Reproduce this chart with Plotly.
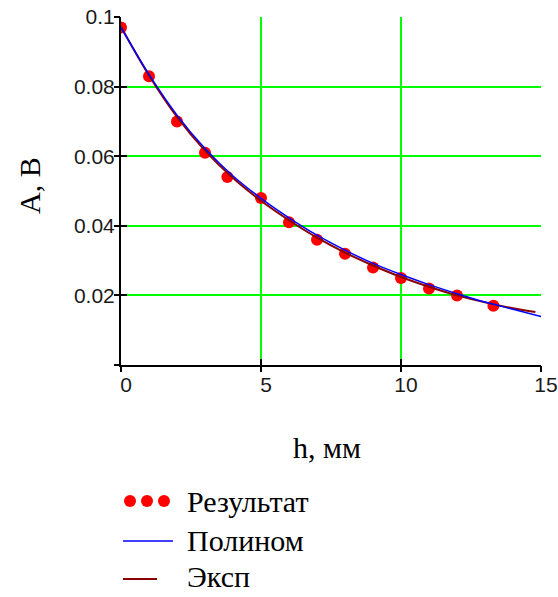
import plotly.graph_objects as go

# Measured signal amplitude versus gap
h_mm = [0, 1, 2, 3, 3.8, 5, 6, 7, 8, 9, 10, 11, 12, 13.3]
a_volts = [0.097, 0.083, 0.070, 0.061, 0.054, 0.048, 0.041, 0.036,
           0.032, 0.028, 0.025, 0.022, 0.020, 0.017]

# Polynomial approximation sampled along h
poly_h = [0, 1, 2, 3, 4, 5, 6, 7, 8, 9, 10, 11, 12, 13, 14, 15]
poly_a = [0.0970, 0.0835, 0.0718, 0.0622, 0.0543, 0.0479, 0.0423, 0.0373,
          0.0330, 0.0292, 0.0260, 0.0231, 0.0205, 0.0181, 0.0160, 0.0139]

# Exponential approximation sampled along h
exp_h = [0, 1, 2, 3, 4, 5, 6, 7, 8, 9, 10, 11, 12, 13, 14, 14.8]
exp_a = [0.0972, 0.0832, 0.0713, 0.0616, 0.0537, 0.0472, 0.0416, 0.0366,
         0.0323, 0.0286, 0.0253, 0.0225, 0.0200, 0.0180, 0.0163, 0.0152]

x_ticks = [0, 5, 10, 15]
y_ticks = [0.02, 0.04, 0.06, 0.08, 0.1]
y_tick_text = ["0.02", "0.04", "0.06", "0.08", "0.1"]
y_marks = [0, 0.02, 0.04, 0.06, 0.08, 0.1]

x_title = "h, мм"
y_title = "А, В"
names = ["Результат", "Полином", "Эксп"]

W, H = 558, 597
X_RANGE = [0, 15]
Y_RANGE = [0, 0.1]
xdom = [121 / W, 541 / W]
ydom = [1 - 365 / H, 1 - 17 / H]

RED = "#ff0000"
BLUE = "#0000ff"
BROWN = "#8b0000"
GREEN = "#00ff00"
TICK_FONT = dict(family="Liberation Sans", size=21, color="#1a1a1a")
TEXT_FONT = dict(family="Liberation Serif", size=30, color="#000000")

fig = go.Figure()

# Data layers: markers on xy, exponential on x2y2 (outer ticks),
# polynomial on x3y3 (inner ticks); all three share domain and range.
fig.add_trace(go.Scatter(x=h_mm, y=a_volts, mode="markers",
                         marker=dict(color=RED, size=12),
                         xaxis="x", yaxis="y", showlegend=False))
fig.add_trace(go.Scatter(x=exp_h, y=exp_a, mode="lines",
                         line=dict(color=BROWN, width=2, shape="spline"),
                         xaxis="x2", yaxis="y2", showlegend=False))
fig.add_trace(go.Scatter(x=poly_h, y=poly_a, mode="lines",
                         line=dict(color=BLUE, width=1.5, shape="spline"),
                         xaxis="x3", yaxis="y3", showlegend=False))

# Legend keys drawn in a pixel-space panel (x4/y4)
fig.add_trace(go.Scatter(x=[130, 147, 164], y=[501, 501, 501], mode="markers",
                         marker=dict(color=RED, size=12),
                         xaxis="x4", yaxis="y4", showlegend=False))
fig.add_trace(go.Scatter(x=[123, 173], y=[541, 541], mode="lines",
                         line=dict(color=BLUE, width=1.5),
                         xaxis="x4", yaxis="y4", showlegend=False))
fig.add_trace(go.Scatter(x=[123, 157], y=[579, 579], mode="lines",
                         line=dict(color=BROWN, width=2),
                         xaxis="x4", yaxis="y4", showlegend=False))

annotations = []
for label, ypx in zip(names, [501, 540, 576]):
    annotations.append(dict(x=185, y=ypx, xref="x4", yref="y4", text=label,
                            showarrow=False, xanchor="left", yanchor="middle",
                            font=TEXT_FONT))
annotations.append(dict(x=327, y=447, xref="x4", yref="y4", text=x_title,
                        showarrow=False, xanchor="center", yanchor="middle",
                        font=TEXT_FONT))
annotations.append(dict(x=29, y=186, xref="x4", yref="y4", text=y_title,
                        textangle=-90, showarrow=False, xanchor="center",
                        yanchor="middle", font=TEXT_FONT))

hidden = dict(showgrid=False, showline=False, zeroline=False,
              showticklabels=False, ticks="")

tick_common = dict(showgrid=False, showline=False, zeroline=False,
                   showticklabels=False, ticklen=6, tickwidth=2,
                   tickcolor="#000000", tickmode="array")

fig.update_layout(
    width=W, height=H,
    margin=dict(l=0, r=0, t=0, b=0),
    paper_bgcolor="#ffffff",
    plot_bgcolor="rgba(0,0,0,0)",
    showlegend=False,
    xaxis=dict(domain=xdom, range=X_RANGE, anchor="y",
               tickmode="array", tickvals=x_ticks, ticks="",
               showgrid=True, gridcolor=GREEN, gridwidth=2,
               showline=True, linecolor="#000000", linewidth=2,
               zeroline=False, tickfont=TICK_FONT, automargin=False,
               ticklabelshift=5, ticklabelstandoff=0),
    yaxis=dict(domain=ydom, range=Y_RANGE, anchor="x",
               tickmode="array", tickvals=y_ticks, ticktext=y_tick_text,
               ticks="", showgrid=True, gridcolor=GREEN, gridwidth=2,
               showline=True, linecolor="#000000", linewidth=2,
               zeroline=False, tickfont=TICK_FONT, automargin=False),
    xaxis2=dict(overlaying="x", anchor="y2", domain=xdom, range=X_RANGE,
                tickvals=x_ticks, ticks="outside", **tick_common),
    yaxis2=dict(overlaying="y", anchor="x2", domain=ydom, range=Y_RANGE,
                tickvals=y_marks, ticks="outside", **tick_common),
    xaxis3=dict(overlaying="x", anchor="y3", domain=xdom, range=X_RANGE,
                tickvals=x_ticks, ticks="inside", **tick_common),
    yaxis3=dict(overlaying="y", anchor="x3", domain=ydom, range=Y_RANGE,
                tickvals=y_marks, ticks="inside", **tick_common),
    xaxis4=dict(domain=[0, 1], range=[0, W], anchor="y4", **hidden),
    yaxis4=dict(domain=[0, 1], range=[H, 0], anchor="x4", **hidden),
    annotations=annotations,
)

fig.write_html("out.html")
